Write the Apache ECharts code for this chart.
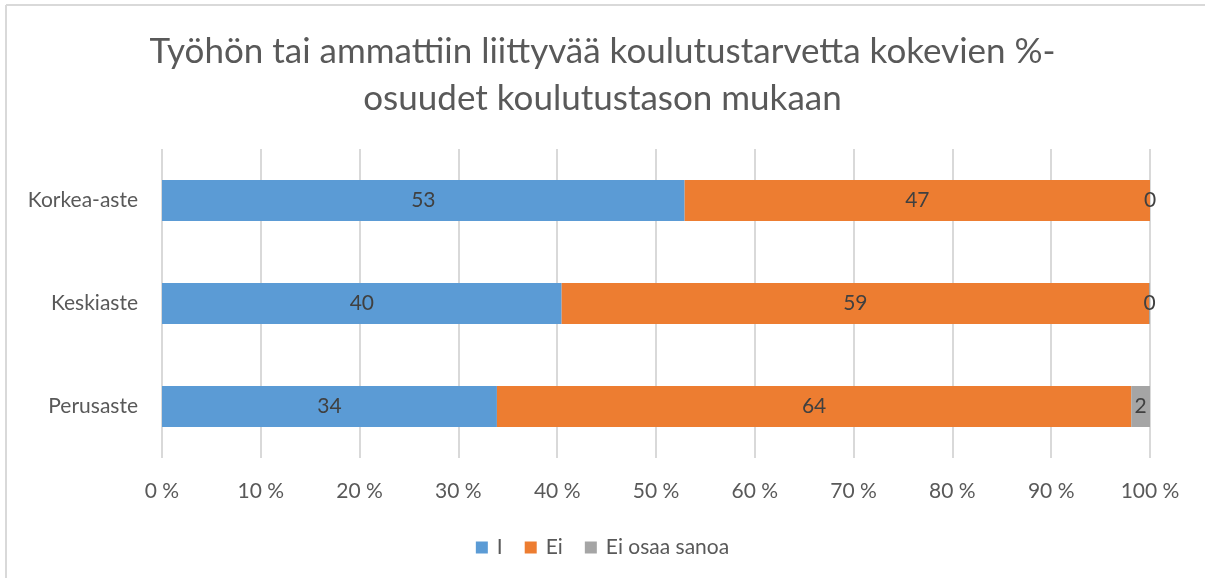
<!DOCTYPE html>
<html>
<head>
<meta charset="utf-8">
<style>
  html, body { margin: 0; padding: 0; background: #fff; }
  #chart { width: 1205px; height: 578px; }
</style>
</head>
<body>
<div id="chart"></div>
<script src="https://cdn.jsdelivr.net/npm/echarts/dist/echarts.min.js"></script>
<script>
// rivit ylhäältä alas
let categories = ['Korkea-aste', 'Keskiaste', 'Perusaste'];
let seriesNames = ['I', 'Ei', 'Ei osaa sanoa'];
// %-osuudet luettu kuvasta
let kylla = [52.9, 40.45, 33.9];
let ei = [47.1, 59.45, 64.2];
let eiOsaa = [0, 0.1, 1.9];
let xTicks = ['0 %', '10 %', '20 %', '30 %', '40 %', '50 %', '60 %', '70 %', '80 %', '90 %', '100 %'];

let colors = ['#5B9BD5', '#ED7D31', '#A5A5A5'];
let font = 'Lato, "Open Sans", sans-serif';

function makeSeries(name, data, color) {
  return {
    name: name,
    type: 'bar',
    stack: 'total',
    barWidth: 41,
    data: data,
    itemStyle: { color: color },
    label: {
      show: true,
      position: 'inside',
      color: '#404040',
      fontFamily: font,
      fontSize: 21,
      formatter: function (p) { return Math.round(p.value); }
    },
    emphasis: { disabled: true }
  };
}

let myChart = echarts.init(document.getElementById('chart'));
let option = {
  animation: false,
  textStyle: { fontFamily: font },
  title: {
    text: 'Työhön tai ammattiin liittyvää koulutustarvetta kokevien %-\nosuudet koulutustason mukaan',
    left: 'center',
    top: 23,
    textStyle: {
      fontFamily: font,
      fontSize: 35,
      fontWeight: 'normal',
      color: '#595959',
      lineHeight: 47
    }
  },
  legend: {
    data: seriesNames,
    top: 532,
    left: 'center',
    itemWidth: 12,
    itemHeight: 12,
    itemGap: 22,
    icon: 'rect',
    textStyle: { fontFamily: font, fontSize: 21, color: '#595959', padding: [0, 0, 0, 4] }
  },
  grid: { left: 162, right: 55, top: 149, bottom: 120 },
  xAxis: {
    type: 'value',
    min: 0,
    max: 100,
    interval: 10,
    axisLine: { show: false },
    axisTick: { show: false },
    splitLine: { show: true, lineStyle: { color: '#d9d9d9', width: 2 } },
    axisLabel: {
      margin: 23,
      fontSize: 21,
      color: '#595959',
      fontFamily: font,
      formatter: function (v) { return xTicks[Math.round(v / 10)]; }
    }
  },
  yAxis: {
    type: 'category',
    inverse: true,
    data: categories,
    axisLine: { show: false },
    axisTick: { show: false },
    axisLabel: { margin: 24, fontSize: 21, color: '#595959', fontFamily: font }
  },
  graphic: [
    { type: 'line', shape: { x1: 6, y1: 5, x2: 6, y2: 578 }, style: { stroke: '#d9d9d9', lineWidth: 2 } },
    { type: 'line', shape: { x1: 6, y1: 5, x2: 1205, y2: 5 }, style: { stroke: '#d9d9d9', lineWidth: 2 } }
  ],
  series: [
    makeSeries(seriesNames[0], kylla, colors[0]),
    makeSeries(seriesNames[1], ei, colors[1]),
    makeSeries(seriesNames[2], eiOsaa, colors[2])
  ]
};
myChart.setOption(option);
window.addEventListener('resize', function () { myChart.resize(); });
</script>
</body>
</html>
